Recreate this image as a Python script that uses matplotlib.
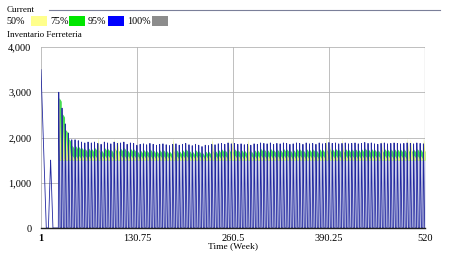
import numpy as np
import matplotlib
matplotlib.use("Agg")
import matplotlib.pyplot as plt
from matplotlib.patches import Rectangle

plt.rcParams['font.family'] = ['Liberation Serif', 'DejaVu Serif']

# ------------------------------------------------------------
# Data
# ------------------------------------------------------------
# start-up transient of the current run (week, units)
early_weeks = [1, 8, 11, 14, 17, 24]
early_vals = [3500, 0, 0, 1500, 0, 0]

# regular reorder cycle
first_restock = 25
cycle_weeks = 4.4

# peak inventory reached at every restock (current run, dark tips)
peak_current = [
    3000, 2650, 2300, 2100, 1950, 1950, 1930, 1900, 1880, 1900,
    1880, 1900, 1870, 1850, 1900, 1880, 1860, 1900, 1870, 1880,
    1900, 1850, 1880, 1870, 1830, 1850, 1860, 1840, 1870, 1850,
    1830, 1850, 1860, 1840, 1820, 1850, 1860, 1830, 1850, 1870,
    1840, 1820, 1850, 1830, 1800, 1830, 1820, 1850, 1840, 1860,
    1870, 1850, 1880, 1860, 1870, 1850, 1860, 1840, 1850, 1830,
    1860, 1850, 1880, 1870, 1860, 1880, 1850, 1870, 1860, 1880,
    1870, 1850, 1860, 1880, 1870, 1850, 1880, 1860, 1870, 1850,
    1880, 1860, 1870, 1890, 1870, 1880, 1860, 1870, 1880, 1860,
    1870, 1880, 1860, 1870, 1890, 1870, 1880, 1860, 1850, 1870,
    1880, 1860, 1870, 1880, 1870, 1860, 1870, 1880, 1870, 1860,
    1880, 1870, 1860,
]

# band levels of the sensitivity runs
band_floor = 1500      # every run is back above this after a restock
green_below_tip = 120  # 75% band top sits this far under the current tips
yellow_base = 1610
# occasional taller 50% spikes (week, units)
yellow_spike_weeks = [26, 30, 34, 38, 77, 98, 104, 179, 232, 252, 259, 279,
                      385, 390, 409, 462, 496, 500, 516]
yellow_spike_vals = [2950, 2600, 2250, 2000, 2000, 1980, 1950, 1990, 1980, 1960,
                     1990, 1970, 1990, 1950, 1980, 1950, 1990, 1970, 1990]

legend_labels = ["50%", "75%", "95%", "100%"]
legend_colors = ["#ffff8c", "#00e600", "#0000ff", "#8c8c8c"]

x_ticks = [1, 130.75, 260.5, 390.25, 520]
x_tick_labels = ["1", "130.75", "260.5", "390.25", "520"]
y_ticks = [0, 1000, 2000, 3000, 4000]
y_tick_labels = ["0", "1,000", "2,000", "3,000", "4,000"]


# ------------------------------------------------------------
# Build the traces
# ------------------------------------------------------------
restocks = np.arange(first_restock, 520, cycle_weeks)[:len(peak_current)]
tt = np.arange(1, 520.001, 0.02)
in_cycles = tt >= restocks[0] - 0.7


def spikes(peaks, base=0.0, rise=0.6, fall=1.7, start=True):
    """value jumps to the peak at each restock and falls back to base"""
    xs = list(early_weeks) if start else [1]
    ys = list(early_vals) if start else [base]
    for r, p in zip(restocks, peaks):
        xs += [r - rise, r, r + fall]
        ys += [base, p, base]
    xs.append(520.5)
    ys.append(base)
    return np.interp(tt, xs, ys)


def plateau(tops, base):
    """band top that stays up most of the cycle, with a notch at each restock"""
    xs, ys = [], []
    for r, p in zip(restocks, tops):
        xs += [r - 0.7, r, r + 2.0, r + cycle_weeks - 1.0]
        ys += [base, p, p - 40, p - 80]
    return np.interp(tt, xs, ys, left=base, right=base)


yellow_peaks = []
for r in restocks:
    v = yellow_base
    for w, s in zip(yellow_spike_weeks, yellow_spike_vals):
        if r - 2 <= w < r + cycle_weeks - 2:
            v = s
    yellow_peaks.append(v)

green_tops = [p - green_below_tip for p in peak_current]

saw_cur = spikes(peak_current)
green_hi = plateau(green_tops, band_floor)
yellow_hi = spikes(yellow_peaks, base=band_floor, rise=1.0, fall=3.2, start=False)
yellow_flat = plateau([yellow_base] * len(restocks), band_floor)

# ------------------------------------------------------------
# Figure
# ------------------------------------------------------------
fig = plt.figure(figsize=(4.65, 2.56), dpi=100)
ax = fig.add_axes([41 / 465, 1 - 228 / 256, 384 / 465, 181 / 256])

# 100% / 95% spread below the band floor
ax.fill_between(tt, 0, band_floor, where=in_cycles, color="#cdd0ea", lw=0)
# 75% and 50% bands above the floor
ax.fill_between(tt, band_floor, green_hi, where=in_cycles, color="#44dc50", lw=0)
ax.fill_between(tt, band_floor, np.maximum(yellow_flat, yellow_hi), where=in_cycles,
                color="#e2f27e", lw=0)
# current run
ax.plot(tt, saw_cur, color="#2329a0", lw=0.6)

ax.set_xlim(1, 520)
ax.set_ylim(0, 4000)
ax.set_xticks(x_ticks)
ax.set_xticklabels(x_tick_labels, fontsize=7.5)
ax.get_xticklabels()[0].set_fontweight("bold")
ax.set_yticks(y_ticks)
ax.set_yticklabels(y_tick_labels, fontsize=7.5)
ax.tick_params(axis="y", length=0, pad=7)
ax.tick_params(axis="x", length=0, pad=4)
ax.grid(True, color="#b4b4b4", lw=0.6)
ax.set_axisbelow(True)
for side in ["left", "right", "top"]:
    ax.spines[side].set_visible(False)
ax.spines["bottom"].set_color("#202020")
ax.spines["bottom"].set_linewidth(1.0)
ax.axvline(520, color="#505050", lw=0.8)
ax.set_xlabel("Time (Week)", fontsize=6.8, labelpad=0)

# header: title line and legend
fig.text(7 / 465, 1 - 10 / 256, "Current", fontsize=6.5, va="center")
fig.add_artist(plt.Line2D([49 / 465, 440 / 465], [1 - 10 / 256, 1 - 10 / 256],
                          color="#7a7f99", lw=0.8))
label_x = [6, 50, 88, 127]
box_x = [31, 69, 108, 152]
for lab, col, lx, bx in zip(legend_labels, legend_colors, label_x, box_x):
    fig.text(lx / 465, 1 - 21 / 256, lab, fontsize=7.3, va="center")
    fig.add_artist(Rectangle((bx / 465, 1 - 26 / 256), 16 / 465, 10 / 256,
                             transform=fig.transFigure, color=col, lw=0))
fig.text(7 / 465, 1 - 35 / 256, "Inventario Ferreteria", fontsize=6.5, va="center")

fig.savefig("out.png", dpi=100)
